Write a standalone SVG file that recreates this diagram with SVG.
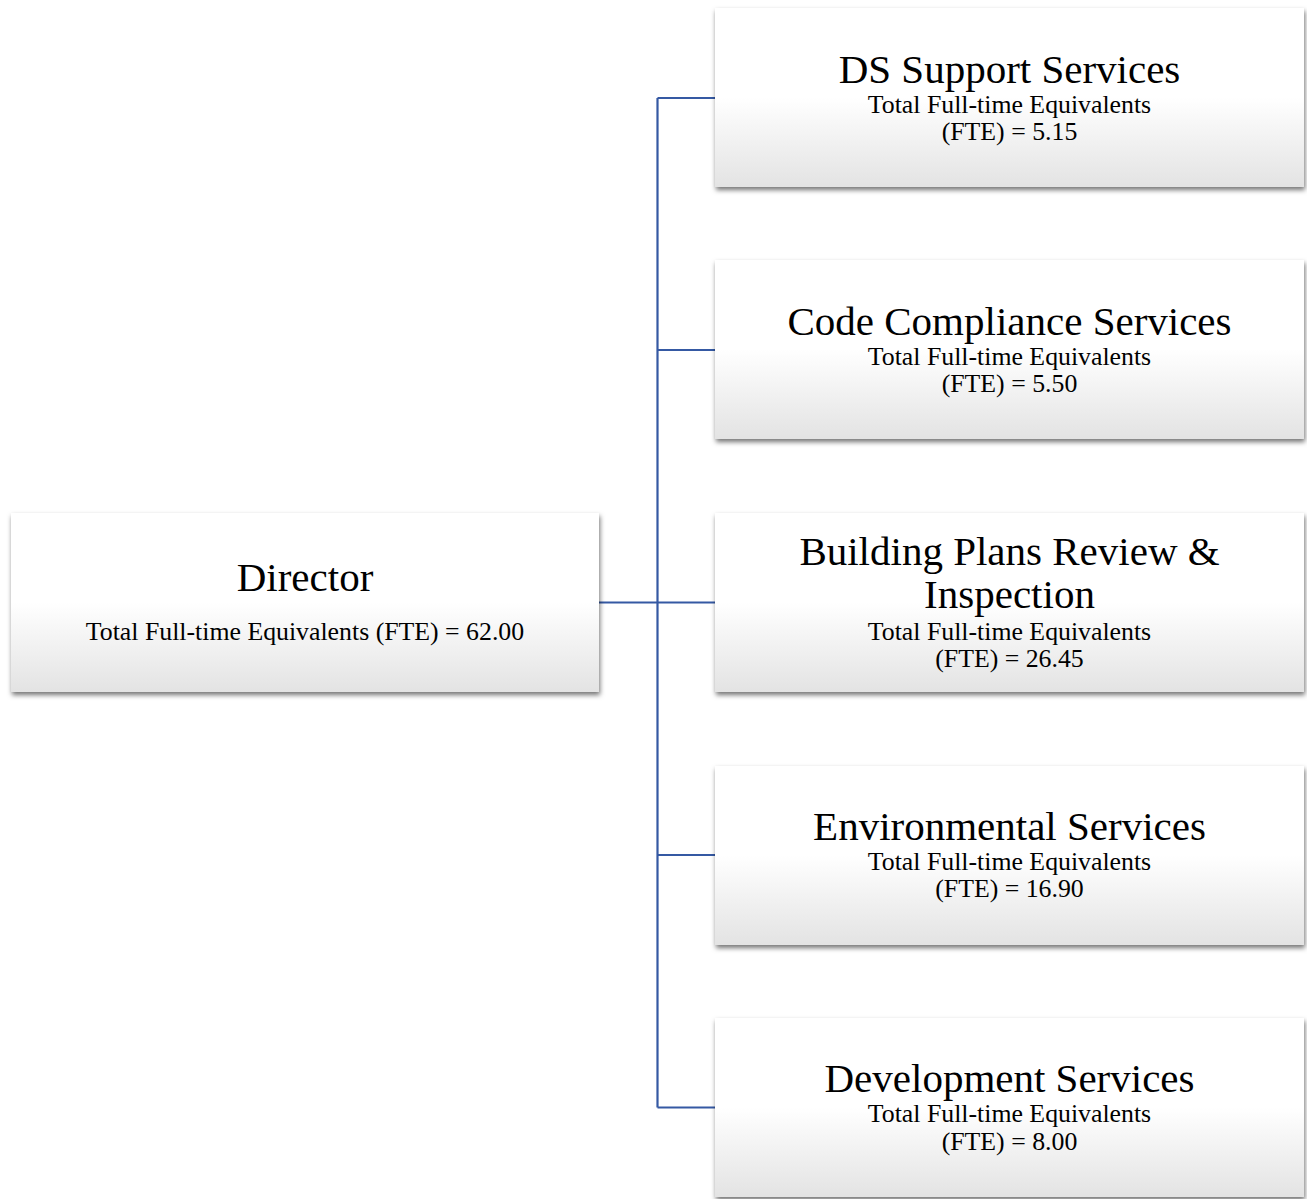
<svg xmlns="http://www.w3.org/2000/svg" width="1307" height="1199" viewBox="0 0 1307 1199">
<defs>
<linearGradient id="g" x1="0" y1="0" x2="0" y2="1">
<stop offset="0" stop-color="#ffffff"/>
<stop offset="0.5" stop-color="#ffffff"/>
<stop offset="1" stop-color="#e3e3e3"/>
</linearGradient>
<filter id="sh" x="-5%" y="-10%" width="110%" height="125%">
<feDropShadow dx="1" dy="3" stdDeviation="2.5" flood-color="#000" flood-opacity="0.55"/>
</filter>
</defs>
<style>
.box{fill:url(#g);filter:url(#sh);}
.t{font-family:"Liberation Serif",serif;font-size:41px;fill:#000;text-anchor:middle;}
.s{font-family:"Liberation Serif",serif;font-size:25.8px;fill:#000;text-anchor:middle;}
.c{stroke:#3559a3;stroke-width:2.2;fill:none;}
</style>
<rect width="1307" height="1199" fill="#fff"/>
<g id="connectors">
<path class="c" d="M599 602.5H657.5M657.5 98V1107.5M657.5 98H715M657.5 350H715M657.5 602.5H715M657.5 855H715M657.5 1107.5H715"/>
</g>
<g id="director">
<rect class="box" x="11" y="513" width="588" height="179"/>
<text class="t" x="305" y="591">Director</text>
<text class="s" x="305" y="640">Total Full-time Equivalents (FTE) = 62.00</text>
</g>
<g id="ds-support">
<rect class="box" x="715" y="8" width="589" height="179"/>
<text class="t" x="1009.5" y="83">DS Support Services</text>
<text class="s" x="1009.5" y="113">Total Full-time Equivalents</text>
<text class="s" x="1009.5" y="140">(FTE) = 5.15</text>
</g>
<g id="code-compliance">
<rect class="box" x="715" y="260" width="589" height="179"/>
<text class="t" x="1009.5" y="335">Code Compliance Services</text>
<text class="s" x="1009.5" y="365">Total Full-time Equivalents</text>
<text class="s" x="1009.5" y="392">(FTE) = 5.50</text>
</g>
<g id="building-plans">
<rect class="box" x="715" y="513" width="589" height="179"/>
<text class="t" x="1009.5" y="565">Building Plans Review &amp;</text>
<text class="t" x="1009.5" y="608">Inspection</text>
<text class="s" x="1009.5" y="640">Total Full-time Equivalents</text>
<text class="s" x="1009.5" y="667">(FTE) = 26.45</text>
</g>
<g id="environmental">
<rect class="box" x="715" y="766" width="589" height="179"/>
<text class="t" x="1009.5" y="840">Environmental Services</text>
<text class="s" x="1009.5" y="870">Total Full-time Equivalents</text>
<text class="s" x="1009.5" y="897">(FTE) = 16.90</text>
</g>
<g id="development">
<rect class="box" x="715" y="1018" width="589" height="179"/>
<text class="t" x="1009.5" y="1092">Development Services</text>
<text class="s" x="1009.5" y="1122">Total Full-time Equivalents</text>
<text class="s" x="1009.5" y="1150">(FTE) = 8.00</text>
</g>
</svg>
